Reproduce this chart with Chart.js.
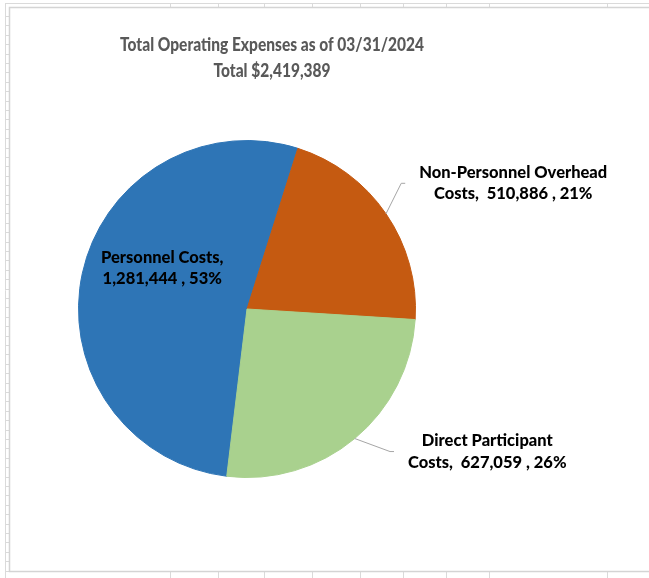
<!DOCTYPE html>
<html>
<head>
<meta charset="utf-8">
<script src="https://cdn.jsdelivr.net/npm/chart.js@4.4.1/dist/chart.umd.min.js"></script>
<style>
  html, body { margin: 0; padding: 0; background: #fff; }
  #wrap { position: relative; width: 649px; height: 578px; }
</style>
</head>
<body>
<div id="wrap"><canvas id="expenseChart" width="649" height="578"></canvas></div>
<script>
const titleLines = ['Total Operating Expenses as of 03/31/2024', 'Total $2,419,389']
const categories = ['Personnel Costs', 'Non-Personnel Overhead Costs', 'Direct Participant Costs']
const amounts = [1281444, 510886, 627059]
const percents = [53, 21, 26]
const colors = ['#2E75B6', '#C55A11', '#A9D18E']

// worksheet column edges peeking out above and below the chart object
const sheetColumns = [170, 218, 264, 312, 360, 403, 446, 489, 607]

const FONT = 'Lato, "Open Sans", sans-serif'

function fmt(n) {
  return n.toLocaleString('en-US')
}

// label text the way the spreadsheet wraps it
function labelLines(i) {
  const name = categories[i]
  const tail = fmt(amounts[i]) + ' , ' + percents[i] + '%'
  if (i === 0) return [name + ',', tail]
  const words = name.split(' ')
  const last = words.pop()
  return [words.join(' '), last + ',  ' + tail]
}

// where each label sits, in units of the pie radius from the centre
const labelSpots = [
  { dx: -0.503, dy: -0.243, leader: false },
  { dx: 1.58, dy: -0.746, leader: true },
  { dx: 1.426, dy: 0.846, leader: true }
]

const sheetBackdrop = {
  id: 'sheetBackdrop',
  beforeDraw(chart) {
    const { ctx, width, height } = chart
    ctx.save()
    ctx.fillStyle = '#fff'
    ctx.fillRect(0, 0, width, height)
    ctx.strokeStyle = '#dadada'
    ctx.lineWidth = 1
    ctx.beginPath()
    ctx.moveTo(5.5, 3); ctx.lineTo(5.5, height)
    ctx.moveTo(5, 3.5); ctx.lineTo(width, 3.5)
    sheetColumns.forEach(x => {
      ctx.moveTo(x + 0.5, 3); ctx.lineTo(x + 0.5, 7)
      ctx.moveTo(x + 0.5, 572); ctx.lineTo(x + 0.5, height)
    })
    for (let y = 16; y < 571; y += 9.4) {
      ctx.moveTo(5, Math.round(y) + 0.5); ctx.lineTo(9, Math.round(y) + 0.5)
    }
    ctx.stroke()
    // chart frame
    ctx.strokeStyle = '#d4d4d4'
    ctx.lineWidth = 1.5
    ctx.strokeRect(9.5, 7.5, width + 10, 564)
    ctx.restore()
  },
  afterDraw(chart) {
    const { ctx } = chart
    ctx.save()
    ctx.font = '900 18.5px ' + FONT
    ctx.fillStyle = '#595959'
    ctx.textAlign = 'center'
    ctx.textBaseline = 'middle'
    // narrow the title to the width of the spreadsheet's condensed face
    const sx = 304 / ctx.measureText(titleLines[0]).width
    ctx.translate(272, 0)
    ctx.scale(sx, 1)
    titleLines.forEach((t, i) => ctx.fillText(t, 0, 45 + i * 26))
    ctx.restore()
  }
}

const sliceLabels = {
  id: 'sliceLabels',
  afterDatasetsDraw(chart) {
    const { ctx } = chart
    const arcs = chart.getDatasetMeta(0).data
    ctx.save()
    ctx.font = '900 16.5px ' + FONT
    ctx.fillStyle = '#000'
    ctx.textAlign = 'center'
    ctx.textBaseline = 'middle'
    const sx = 188 / ctx.measureText('Non-Personnel Overhead').width
    const lineH = 21.5
    arcs.forEach((arc, i) => {
      const { x, y, outerRadius, startAngle, endAngle } = arc.getProps(['x', 'y', 'outerRadius', 'startAngle', 'endAngle'], true)
      const spot = labelSpots[i]
      const lines = labelLines(i)
      const cx = x + spot.dx * outerRadius
      const cy = y + spot.dy * outerRadius
      if (spot.leader) {
        const mid = (startAngle + endAngle) / 2
        const w = sx * Math.max(...lines.map(l => ctx.measureText(l).width))
        const ex = cx - w / 2 - 14
        ctx.strokeStyle = '#a6a6a6'
        ctx.lineWidth = 1
        ctx.beginPath()
        ctx.moveTo(x + Math.cos(mid) * outerRadius, y + Math.sin(mid) * outerRadius)
        ctx.lineTo(ex - 4, cy)
        ctx.lineTo(ex, cy)
        ctx.stroke()
      }
      ctx.save()
      ctx.translate(cx, cy)
      ctx.scale(sx, 1)
      lines.forEach((l, k) => {
        ctx.fillText(l, 0, (k - (lines.length - 1) / 2) * lineH)
      })
      ctx.restore()
    })
    ctx.restore()
  }
}

new Chart(document.getElementById('expenseChart'), {
  type: 'pie',
  data: {
    labels: categories,
    datasets: [{
      data: amounts,
      backgroundColor: colors,
      borderColor: colors,
      borderWidth: 1
    }]
  },
  options: {
    responsive: false,
    animation: false,
    rotation: 186.9,
    layout: {
      padding: { left: 78, right: 233, top: 140, bottom: 100 }
    },
    plugins: {
      legend: { display: false },
      tooltip: { enabled: false },
      title: { display: false }
    }
  },
  plugins: [sheetBackdrop, sliceLabels]
})
</script>
</body>
</html>
